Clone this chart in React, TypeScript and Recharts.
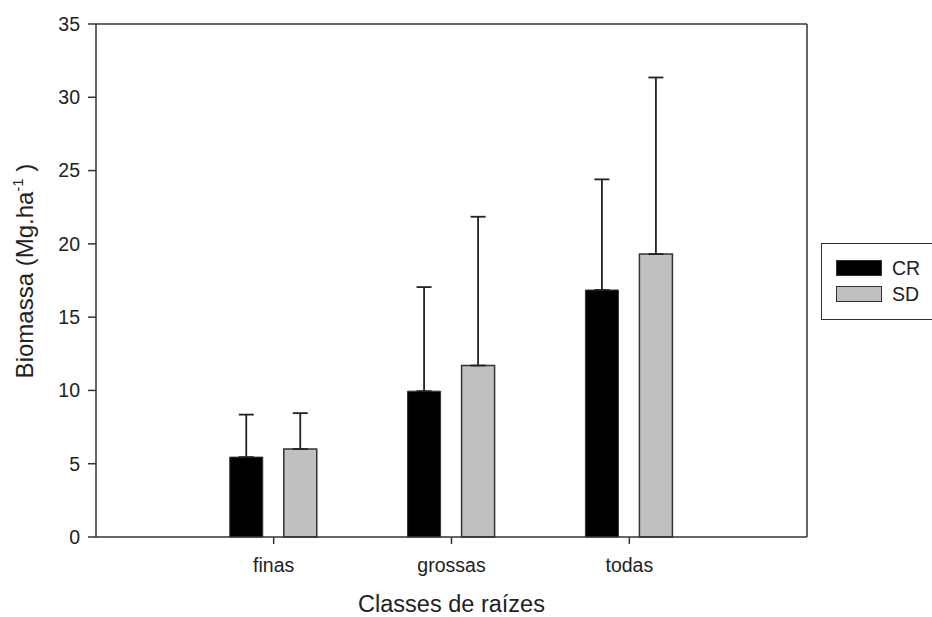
import React from "react";
import { BarChart, Bar, XAxis, YAxis, ErrorBar, Legend } from "recharts";

// root classes and mean biomass (Mg/ha), with upper error bar lengths
const classes = ["finas", "grossas", "todas"];
const crValues = [5.45, 9.95, 16.85];
const crErrors = [2.9, 7.1, 7.55];
const sdValues = [6.0, 11.7, 19.3];
const sdErrors = [2.45, 10.15, 12.05];
const yTicks = [0, 5, 10, 15, 20, 25, 30, 35];

const data = classes.map((c, i) => ({
  classe: c,
  CR: crValues[i],
  crErr: [0, crErrors[i]],
  SD: sdValues[i],
  sdErr: [0, sdErrors[i]],
}));

const INK = "#222";
const AXIS = "#333";
const FONT = "'Liberation Sans', Arial, sans-serif";

const YTitle = () => {
  const cx = 33;
  const cy = 271;
  return (
    <text
      x={cx}
      y={cy}
      transform={`rotate(-90, ${cx}, ${cy})`}
      textAnchor="middle"
      fontSize={24}
      fill={INK}
      fontFamily={FONT}
    >
      Biomassa (Mg.ha
      <tspan dy={-10} fontSize={15}>
        -1
      </tspan>
      <tspan dy={10}> )</tspan>
    </text>
  );
};

const XTitle = (props: any) => {
  const vb = props.viewBox || { x: 96, width: 711, y: 537 };
  return (
    <text
      x={vb.x + vb.width / 2}
      y={612}
      textAnchor="middle"
      fontSize={23.5}
      fill={INK}
      fontFamily={FONT}
    >
      Classes de raízes
    </text>
  );
};

const LegendBox = (props: any) => {
  const items = props.payload || [];
  return (
    <div
      style={{
        width: 160,
        height: 77,
        borderTop: `1.5px solid ${AXIS}`,
        borderLeft: `1.5px solid ${AXIS}`,
        borderBottom: `1.5px solid ${AXIS}`,
        boxSizing: "border-box",
        position: "relative",
        background: "#fff",
        fontFamily: FONT,
      }}
    >
      {items.map((it: any, i: number) => (
        <div
          key={it.value}
          style={{
            position: "absolute",
            left: 14,
            top: 16 + i * 26,
            display: "flex",
            alignItems: "center",
          }}
        >
          <span
            style={{
              display: "inline-block",
              width: 46,
              height: 16,
              background: it.color,
              border: `1.5px solid ${AXIS}`,
              boxSizing: "border-box",
            }}
          />
          <span style={{ marginLeft: 10, fontSize: 19.5, color: INK, lineHeight: "16px" }}>
            {it.value}
          </span>
        </div>
      ))}
    </div>
  );
};

export default function App() {
  return (
    <div
      style={{
        position: "absolute",
        left: 0,
        top: 0,
        width: 932,
        height: 617,
        background: "#fff",
        fontFamily: FONT,
        overflow: "hidden",
      }}
    >
      <BarChart
        width={932}
        height={617}
        data={data}
        margin={{ top: 23, right: 124, left: 0, bottom: 0 }}
        barSize={33}
        barGap={21}
      >
        <XAxis
          dataKey="classe"
          height={80}
          padding={{ left: 88.75, right: 88.75 }}
          axisLine={{ stroke: AXIS, strokeWidth: 1.5 }}
          tickLine={{ stroke: AXIS, strokeWidth: 1.5 }}
          tickSize={7}
          tickMargin={14}
          tick={{ fontSize: 19.5, fill: INK, fontFamily: FONT }}
          label={<XTitle />}
        />
        <XAxis
          xAxisId="top"
          dataKey="classe"
          orientation="top"
          height={1}
          tick={false}
          tickLine={false}
          axisLine={{ stroke: AXIS, strokeWidth: 1.5 }}
        />
        <YAxis
          width={96}
          domain={[0, 35]}
          ticks={yTicks}
          interval={0}
          axisLine={{ stroke: AXIS, strokeWidth: 1.5 }}
          tickLine={{ stroke: AXIS, strokeWidth: 1.5 }}
          tickSize={8}
          tickMargin={8}
          tick={{ fontSize: 19.5, fill: INK, fontFamily: FONT }}
          label={<YTitle />}
        />
        <YAxis
          yAxisId="right"
          orientation="right"
          width={1}
          domain={[0, 35]}
          tick={false}
          tickLine={false}
          axisLine={{ stroke: AXIS, strokeWidth: 1.5 }}
        />
        <Legend
          layout="horizontal"
          align="center"
          verticalAlign="middle"
          content={<LegendBox />}
          wrapperStyle={{ position: "absolute", left: 821, top: 243, width: 160, height: 80 }}
        />
        <Bar dataKey="CR" name="CR" fill="#000" stroke={AXIS} strokeWidth={1} isAnimationActive={false}>
          <ErrorBar dataKey="crErr" width={7.5} stroke={INK} strokeWidth={1.8} direction="y" />
        </Bar>
        <Bar dataKey="SD" name="SD" fill="#c0c0c0" stroke={AXIS} strokeWidth={1.5} isAnimationActive={false}>
          <ErrorBar dataKey="sdErr" width={7.5} stroke={INK} strokeWidth={1.8} direction="y" />
        </Bar>
      </BarChart>
    </div>
  );
}
